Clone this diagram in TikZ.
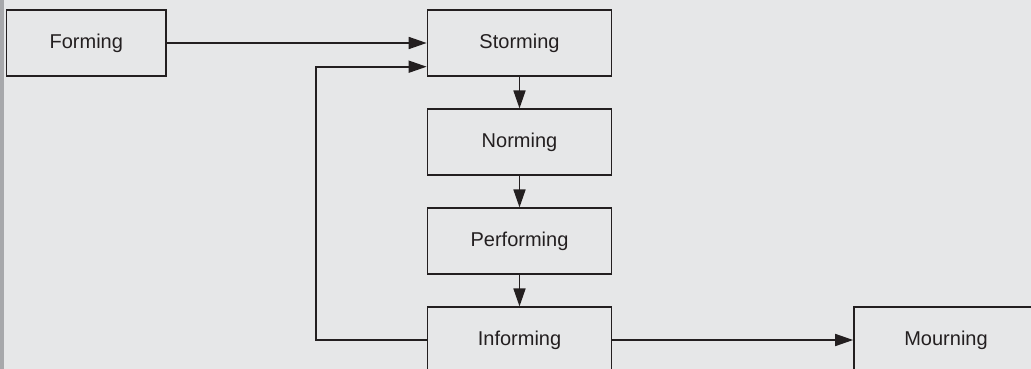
\documentclass[tikz,border=0pt]{standalone}
\usepackage{fontspec}
\setmainfont{Liberation Sans}
\usetikzlibrary{arrows.meta}
\definecolor{bg}{HTML}{E6E7E8}
\definecolor{strip}{HTML}{A7A8AB}
\definecolor{ink}{HTML}{231F20}
\begin{document}
\begin{tikzpicture}[x=1pt,y=-1pt,
  stage/.style={draw=ink, line width=1.7pt, rectangle, minimum width=184pt, minimum height=65.4pt, inner sep=0pt, text=ink, font=\fontsize{20}{24}\selectfont},
  conn/.style={draw=ink, line width=1.7pt, -{Triangle[length=18pt,width=12pt]}}]
\useasboundingbox (0,0) rectangle (1031,369);
\clip (0,0) rectangle (1031,369);
\fill[bg] (0,0) rectangle (1031,369);
\fill[strip] (0,0) rectangle (4.3,369);
\node[stage, minimum width=159.5pt] (forming) at (86.3,43) {Forming};
\node[stage] (storming) at (519.5,43) {Storming};
\node[stage] (norming) at (519.5,142) {Norming};
\node[stage] (performing) at (519.5,241) {Performing};
\node[stage] (informing) at (519.5,340) {Informing};
\node[stage] (mourning) at (946,340) {Mourning};
\coordinate (fbtop) at (315.7,66.7);
\draw[conn] (forming.east) -- (storming.west);
\draw[conn] (storming) -- (norming);
\draw[conn] (norming) -- (performing);
\draw[conn] (performing) -- (informing);
\draw[conn] (informing) -- (mourning);
\draw[conn] (informing.west) -| (fbtop) -- (fbtop -| storming.west);
\end{tikzpicture}
\end{document}
